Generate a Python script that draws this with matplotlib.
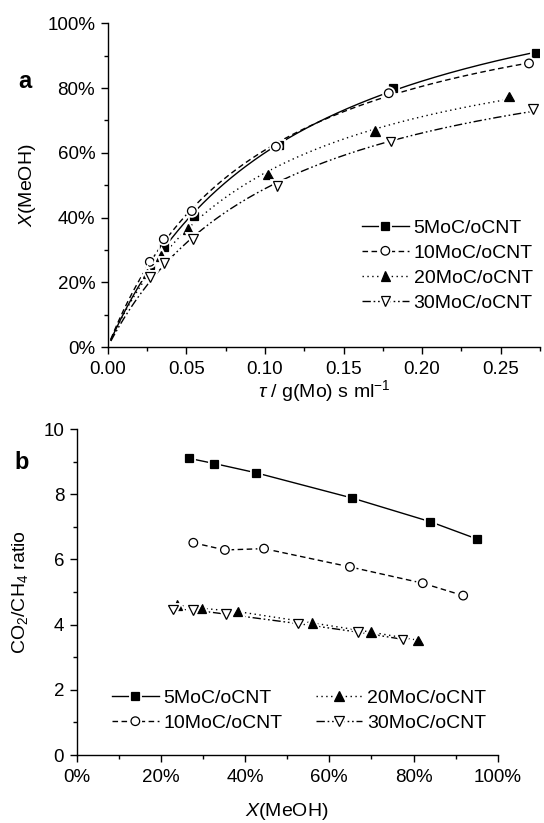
import numpy as np
import matplotlib
matplotlib.use("Agg")
import matplotlib.pyplot as plt
from matplotlib.lines import Line2D
from matplotlib.ticker import MultipleLocator, FuncFormatter
import matplotlib.patheffects as pe

plt.rcParams['font.family'] = ['Liberation Sans', 'DejaVu Sans']
plt.rcParams['mathtext.fontset'] = 'custom'
plt.rcParams['mathtext.rm'] = 'Liberation Sans'
plt.rcParams['mathtext.it'] = 'Liberation Sans:italic'
plt.rcParams['mathtext.bf'] = 'Liberation Sans:bold'

# ---------------- data: panel a (X vs tau) ----------------
series_names = ['5MoC/oCNT', '10MoC/oCNT', '20MoC/oCNT', '30MoC/oCNT']

tau_5 = [0.0270, 0.0361, 0.0546, 0.1090, 0.1816, 0.2723]
conv_5 = [0.253, 0.309, 0.404, 0.624, 0.801, 0.907]
tau_10 = [0.0268, 0.0357, 0.0535, 0.1070, 0.1788, 0.2680]
conv_10 = [0.263, 0.333, 0.420, 0.619, 0.784, 0.876]
tau_20 = [0.0253, 0.0338, 0.0510, 0.1020, 0.1700, 0.2553]
conv_20 = [0.227, 0.281, 0.365, 0.533, 0.667, 0.774]
tau_30 = [0.0270, 0.0360, 0.0542, 0.1080, 0.1800, 0.2706]
conv_30 = [0.216, 0.260, 0.334, 0.497, 0.634, 0.735]

# ---------------- data: panel b (ratio vs X) ----------------
xb_5 = [0.267, 0.327, 0.425, 0.655, 0.839, 0.950]
rb_5 = [9.10, 8.94, 8.66, 7.88, 7.16, 6.63]
xb_10 = [0.277, 0.352, 0.445, 0.649, 0.822, 0.918]
rb_10 = [6.51, 6.29, 6.33, 5.77, 5.27, 4.89]
xb_20 = [0.239, 0.297, 0.382, 0.560, 0.699, 0.811]
rb_20 = [4.60, 4.50, 4.40, 4.05, 3.77, 3.52]
xb_30 = [0.229, 0.276, 0.355, 0.526, 0.668, 0.774]
rb_30 = [4.47, 4.45, 4.32, 4.03, 3.77, 3.55]

markers = ['s', 'o', '^', 'v']
mfcs = ['black', 'white', 'black', 'white']
lstyles = ['-', (0, (4, 2.5)), (0, (1, 2.5)), (0, (6, 2, 1.2, 2, 1.2, 2))]
msize = [5.8, 6.2, 6.8, 6.8]

W, H = 544, 823
fig = plt.figure(figsize=(W / 100, H / 100), dpi=100)

def px_axes(l, t, r, b):
    return fig.add_axes([l / W, 1 - b / H, (r - l) / W, (b - t) / H])

halo = [pe.withStroke(linewidth=3.5, foreground='white')]

def style_axes(ax):
    for s in ['top', 'right']:
        ax.spines[s].set_visible(False)
    for s in ['left', 'bottom']:
        ax.spines[s].set_linewidth(1.0)
    ax.tick_params(which='major', direction='out', length=5, width=1.0, labelsize=13.5, pad=4)
    ax.tick_params(axis='x', which='major', pad=5)
    ax.tick_params(which='minor', direction='out', length=3, width=1.0)

# ---------------- panel a ----------------
ax1 = px_axes(107.7, 23.3, 540, 347)
style_axes(ax1)

def hyper_fit(t, x):
    t = np.asarray(t); x = np.asarray(x)
    best = None
    for b in np.linspace(0.01, 0.5, 2000):
        f = t / (b + t)
        a = f.dot(x) / f.dot(f)
        r = np.sum((a * f - x) ** 2)
        if best is None or r < best[0]:
            best = (r, a, b)
    return best[1], best[2]

data_a = [(tau_5, conv_5), (tau_10, conv_10), (tau_20, conv_20), (tau_30, conv_30)]
for i, (t, x) in enumerate(data_a):
    a, b = hyper_fit(t, x)
    tt = np.linspace(0.002, max(t), 300)
    ax1.plot(tt, a * tt / (b + tt), color='black', lw=1.0, ls=lstyles[i], zorder=2)
    ax1.plot(t, x, ls='none', marker=markers[i], ms=msize[i], mfc=mfcs[i], mec='black',
             mew=0.9, zorder=3, path_effects=halo)

ax1.set_xlim(0, 0.275)
ax1.set_ylim(0, 1.0)
ax1.xaxis.set_major_locator(MultipleLocator(0.05))
ax1.xaxis.set_minor_locator(MultipleLocator(0.025))
ax1.yaxis.set_major_locator(MultipleLocator(0.2))
ax1.yaxis.set_minor_locator(MultipleLocator(0.1))
ax1.xaxis.set_major_formatter(FuncFormatter(lambda v, p: f'{v:.2f}'))
ax1.yaxis.set_major_formatter(FuncFormatter(lambda v, p: f'{v*100:.0f}%'))

handles = [Line2D([], [], color='black', lw=1.0, ls=lstyles[i], marker=markers[i],
                  ms=msize[i], mfc=mfcs[i], mec='black', mew=0.9, path_effects=halo)
           for i in range(4)]
ax1.legend(handles, series_names, loc='upper left',
           bbox_to_anchor=((362 - 107.7) / (540 - 107.7), (347 - 219) / (347 - 23.3)),
           frameon=False, fontsize=14, handlelength=2.4, handletextpad=0.25,
           labelspacing=0.38, borderaxespad=0, borderpad=0)

fig.text(324 / W, 1 - 391 / H, r'$\tau$ / g(Mo) s ml$^{-1}$', ha='center', va='center', fontsize=14)
fig.text(27 / W, 1 - 185 / H, r'$X$(MeOH)', ha='center', va='center', rotation=90, fontsize=14)
fig.text(25 / W, 1 - 82 / H, 'a', ha='center', va='center', fontsize=17, fontweight='bold')

# ---------------- panel b ----------------
ax2 = px_axes(76.7, 429, 497.7, 755)
style_axes(ax2)
data_b = [(xb_5, rb_5), (xb_10, rb_10), (xb_20, rb_20), (xb_30, rb_30)]
for i, (x, r) in enumerate(data_b):
    ax2.plot(x, r, color='black', lw=1.0, ls=lstyles[i], zorder=2)
    ax2.plot(x, r, ls='none', marker=markers[i], ms=msize[i], mfc=mfcs[i], mec='black',
             mew=0.9, zorder=3, path_effects=halo)
ax2.set_xlim(0, 1.0)
ax2.set_ylim(0, 10)
ax2.xaxis.set_major_locator(MultipleLocator(0.2))
ax2.xaxis.set_minor_locator(MultipleLocator(0.1))
ax2.yaxis.set_major_locator(MultipleLocator(2))
ax2.yaxis.set_minor_locator(MultipleLocator(1))
ax2.xaxis.set_major_formatter(FuncFormatter(lambda v, p: f'{v*100:.0f}%'))
ax2.yaxis.set_major_formatter(FuncFormatter(lambda v, p: f'{v:.0f}'))

ax2.legend(handles, series_names, loc='upper left', ncol=2,
           bbox_to_anchor=((112 - 76.7) / (497.7 - 76.7), (755 - 689) / (755 - 429)),
           frameon=False, fontsize=14, handlelength=2.4, handletextpad=0.25,
           labelspacing=0.4, columnspacing=1.7, borderaxespad=0, borderpad=0)

fig.text(287 / W, 1 - 812 / H, r'$X$(MeOH)', ha='center', va='center', fontsize=14)
fig.text(20 / W, 1 - 592 / H, r'CO$_2$/CH$_4$ ratio', ha='center', va='center', rotation=90, fontsize=14)
fig.text(22 / W, 1 - 462 / H, 'b', ha='center', va='center', fontsize=17, fontweight='bold')

fig.savefig('out.png', dpi=100)
